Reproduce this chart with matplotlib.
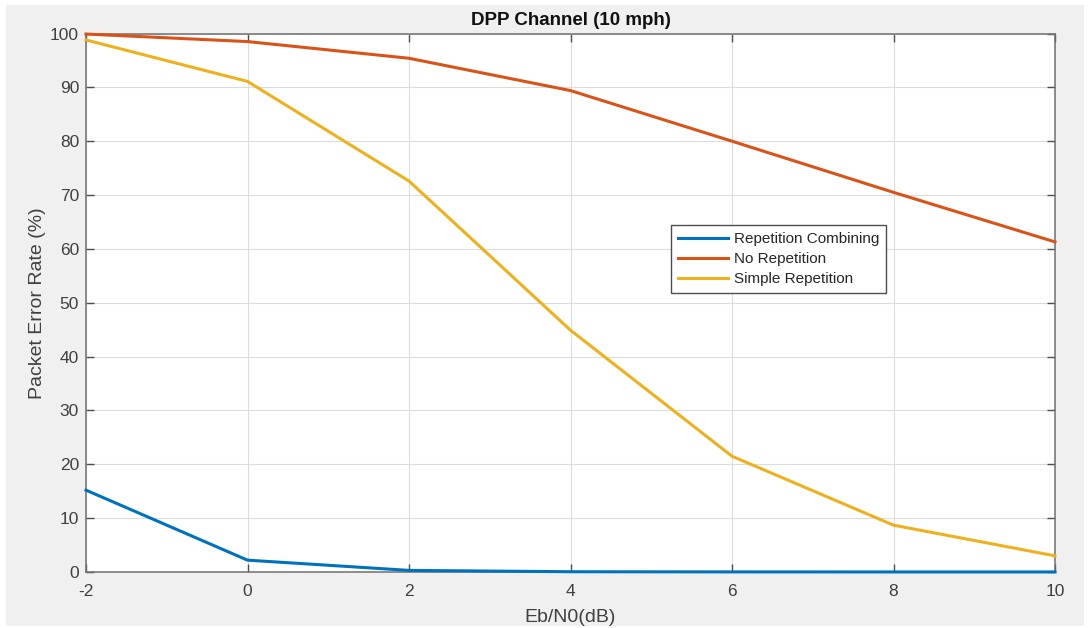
import matplotlib
matplotlib.use("Agg")
import matplotlib.pyplot as plt
from matplotlib.patches import Rectangle

x_vals = [-2, 0, 2, 4, 6, 8, 10]
rep_combining = [15.2, 2.2, 0.3, 0.05, 0.02, 0.01, 0.01]
no_repetition = [99.9, 98.5, 95.4, 89.4, 80.0, 70.5, 61.3]
simple_repetition = [98.8, 91.1, 72.6, 44.9, 21.5, 8.7, 3.0]

x_ticks = [-2, 0, 2, 4, 6, 8, 10]
y_ticks = list(range(0, 101, 10))

plt.rcParams['font.family'] = ['Liberation Sans', 'DejaVu Sans']
plt.rcParams['axes.unicode_minus'] = False

fig = plt.figure(figsize=(10.89, 6.28), dpi=100)
fig.patch.set_facecolor('white')
bg = Rectangle((6/1089, 2/628), 1078/1089, 621/628,
               transform=fig.transFigure, facecolor='#F0F0F0',
               edgecolor='none', zorder=-10)
fig.patches.append(bg)

ax = fig.add_axes([86/1089, (628-572)/628, (1055-86)/1089, (572-33.5)/628])
ax.set_zorder(5)
ax.set_facecolor('white')

ax.plot(x_vals, rep_combining, color='#0072BD', lw=2.2, label='Repetition Combining', clip_on=False, zorder=3)
ax.plot(x_vals, no_repetition, color='#D95319', lw=2.2, label='No Repetition', clip_on=False, zorder=3)
ax.plot(x_vals, simple_repetition, color='#EDB120', lw=2.2, label='Simple Repetition', clip_on=False, zorder=3)

ax.set_xlim(-2, 10)
ax.set_ylim(0, 100)
ax.set_xticks(x_ticks)
ax.set_yticks(y_ticks)
ax.grid(True, color='#DCDCDC', lw=0.8)
ax.set_axisbelow(True)
for s in ax.spines.values():
    s.set_color('#707070')
    s.set_linewidth(1.1)
ax.tick_params(direction='in', top=True, right=True, length=6, width=1.0,
               color='#4D4D4D', labelcolor='#404040', labelsize=12.5)
ax.tick_params(axis='x', pad=9)
ax.tick_params(axis='y', pad=5)

ax.set_title('DPP Channel (10 mph)', fontsize=13.5, fontweight='bold', color='#111111', pad=6)
ax.set_xlabel('Eb/N0(dB)', fontsize=14, color='#404040', labelpad=7)
ax.set_ylabel('Packet Error Rate (%)', fontsize=14, color='#404040', labelpad=3)

leg = ax.legend(loc='upper left', bbox_to_anchor=((671-86)/969, (572-225)/538.5),
                fontsize=11, frameon=True, fancybox=False, framealpha=1,
                edgecolor='#4D4D4D', handlelength=3.3, handletextpad=0.35,
                borderpad=0.45, labelspacing=0.4, borderaxespad=0)
for t in leg.get_texts():
    t.set_color('#262626')
leg.get_frame().set_linewidth(1.0)

fig.savefig('out.png', dpi=100, facecolor=fig.get_facecolor())
